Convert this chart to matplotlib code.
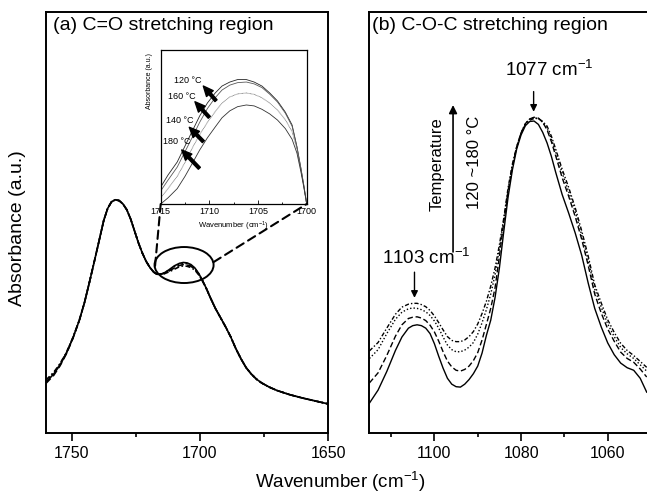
import matplotlib
matplotlib.use("Agg")
import matplotlib.pyplot as plt
from matplotlib.patches import Ellipse, ConnectionPatch
from matplotlib.ticker import MultipleLocator, NullLocator

plt.rcParams['font.family'] = ['Liberation Sans', 'DejaVu Sans']
plt.rcParams['mathtext.fontset'] = 'custom'
plt.rcParams['mathtext.rm'] = 'Liberation Sans'
plt.rcParams['mathtext.default'] = 'regular'

# ----------------------------
# (a) C=O stretching region
# ----------------------------
wn_a = [1760, 1757, 1754.5, 1752, 1749.5, 1747, 1745, 1743, 1741, 1739,
        1737.5, 1736, 1734.5, 1733, 1731.5, 1730, 1728.5, 1727, 1725.5, 1724,
        1722.5, 1721, 1719.5, 1718, 1716.7, 1715.5, 1714, 1712, 1710, 1708,
        1706.5, 1705, 1703.5, 1702, 1700.5, 1699, 1697.5, 1696, 1694, 1692,
        1690, 1688, 1686, 1684, 1682, 1680, 1678, 1676, 1673, 1670,
        1665, 1660, 1655, 1650]
a_120 = [0.121, 0.140, 0.162, 0.190, 0.226, 0.268, 0.310, 0.360, 0.412, 0.465,
         0.505, 0.533, 0.549, 0.554, 0.552, 0.544, 0.530, 0.508, 0.480, 0.452,
         0.428, 0.408, 0.393, 0.382, 0.377, 0.377, 0.380, 0.388, 0.397, 0.403,
         0.405, 0.404, 0.400, 0.392, 0.379, 0.362, 0.343, 0.322, 0.296, 0.274,
         0.252, 0.228, 0.200, 0.176, 0.155, 0.140, 0.128, 0.119, 0.109, 0.101,
         0.091, 0.083, 0.076, 0.069]
a_140 = [0.118, 0.137, 0.160, 0.189, 0.225, 0.268, 0.310, 0.360, 0.412, 0.465,
         0.505, 0.533, 0.549, 0.554, 0.552, 0.544, 0.530, 0.508, 0.480, 0.452,
         0.428, 0.408, 0.393, 0.382, 0.377, 0.377, 0.379, 0.385, 0.392, 0.398,
         0.400, 0.399, 0.396, 0.389, 0.377, 0.361, 0.343, 0.322, 0.296, 0.274,
         0.252, 0.228, 0.200, 0.176, 0.155, 0.140, 0.128, 0.119, 0.109, 0.101,
         0.091, 0.083, 0.076, 0.069]
a_160 = [0.124, 0.142, 0.164, 0.191, 0.226, 0.268, 0.310, 0.360, 0.412, 0.465,
         0.505, 0.533, 0.549, 0.554, 0.552, 0.544, 0.530, 0.508, 0.480, 0.452,
         0.428, 0.408, 0.393, 0.382, 0.377, 0.377, 0.380, 0.387, 0.395, 0.401,
         0.403, 0.402, 0.398, 0.391, 0.378, 0.362, 0.343, 0.322, 0.296, 0.274,
         0.252, 0.228, 0.200, 0.176, 0.155, 0.140, 0.128, 0.119, 0.109, 0.101,
         0.091, 0.083, 0.076, 0.069]
a_180 = [0.126, 0.144, 0.165, 0.192, 0.227, 0.268, 0.310, 0.360, 0.412, 0.465,
         0.505, 0.533, 0.549, 0.554, 0.552, 0.544, 0.530, 0.508, 0.480, 0.452,
         0.428, 0.408, 0.393, 0.382, 0.377, 0.377, 0.378, 0.383, 0.389, 0.395,
         0.397, 0.396, 0.393, 0.387, 0.376, 0.361, 0.343, 0.322, 0.296, 0.274,
         0.252, 0.228, 0.200, 0.176, 0.155, 0.140, 0.128, 0.119, 0.109, 0.101,
         0.091, 0.083, 0.076, 0.069]

# inset (zoom of the 1715-1700 band)
wn_in = [1715.0, 1714.25, 1713.3, 1712.5, 1711.7, 1711.0, 1710.2, 1709.4, 1708.7,
         1707.9, 1707.1, 1706.2, 1705.4, 1704.6, 1703.8, 1703.0, 1702.2, 1701.5,
         1701.0, 1700.6, 1700.3, 1700.0]
in_120 = [0.110, 0.188, 0.273, 0.377, 0.481, 0.571, 0.656, 0.721, 0.766, 0.792,
          0.808, 0.808, 0.792, 0.766, 0.721, 0.669, 0.597, 0.513, 0.370, 0.234,
          0.123, 0.0]
in_160 = [0.085, 0.155, 0.240, 0.340, 0.440, 0.530, 0.620, 0.690, 0.740, 0.772,
          0.788, 0.792, 0.780, 0.756, 0.713, 0.662, 0.590, 0.505, 0.370, 0.232,
          0.120, 0.0]
in_140 = [0.040, 0.100, 0.180, 0.270, 0.370, 0.450, 0.530, 0.600, 0.655, 0.695,
          0.715, 0.721, 0.712, 0.690, 0.655, 0.610, 0.548, 0.470, 0.355, 0.225,
          0.115, 0.0]
in_180 = [0.0, 0.040, 0.100, 0.180, 0.270, 0.350, 0.430, 0.500, 0.560, 0.605,
          0.632, 0.643, 0.637, 0.615, 0.585, 0.545, 0.490, 0.420, 0.330, 0.210,
          0.110, 0.0]
inset_labels = ["120 °C", "160 °C", "140 °C", "180 °C"]

# ----------------------------
# (b) C-O-C stretching region
# ----------------------------
wn_b = [1115, 1113, 1111, 1109, 1107.5, 1106, 1105, 1104, 1103, 1102,
        1101, 1100, 1099, 1098, 1097, 1096, 1095, 1094, 1093, 1092,
        1091, 1090, 1089, 1088, 1087, 1086, 1085, 1084, 1083, 1082,
        1081, 1080, 1079, 1078, 1077, 1076, 1075, 1074, 1073, 1072,
        1070.5, 1069, 1067.5, 1066, 1064.5, 1063, 1061.5, 1060, 1058.5, 1057,
        1055.5, 1054, 1052.5, 1051]
b_120 = [0.071, 0.102, 0.146, 0.196, 0.228, 0.249, 0.255, 0.257, 0.255, 0.249,
         0.236, 0.212, 0.182, 0.154, 0.130, 0.116, 0.110, 0.109, 0.116, 0.127,
         0.141, 0.159, 0.190, 0.232, 0.268, 0.322, 0.392, 0.478, 0.560, 0.625,
         0.675, 0.708, 0.730, 0.740, 0.741, 0.733, 0.714, 0.689, 0.657, 0.619,
         0.566, 0.522, 0.475, 0.422, 0.356, 0.296, 0.252, 0.214, 0.186, 0.166,
         0.155, 0.149, 0.130, 0.097]
b_140 = [0.119, 0.143, 0.184, 0.230, 0.257, 0.272, 0.275, 0.276, 0.273, 0.267,
         0.256, 0.240, 0.218, 0.193, 0.171, 0.157, 0.149, 0.147, 0.151, 0.159,
         0.172, 0.191, 0.221, 0.258, 0.296, 0.345, 0.420, 0.500, 0.572, 0.633,
         0.680, 0.713, 0.735, 0.746, 0.750, 0.748, 0.738, 0.720, 0.692, 0.658,
         0.606, 0.562, 0.514, 0.460, 0.398, 0.330, 0.285, 0.247, 0.218, 0.192,
         0.177, 0.168, 0.152, 0.133]
b_160 = [0.177, 0.198, 0.236, 0.270, 0.287, 0.295, 0.297, 0.296, 0.293, 0.288,
         0.279, 0.266, 0.249, 0.228, 0.209, 0.198, 0.193, 0.193, 0.197, 0.204,
         0.215, 0.235, 0.262, 0.293, 0.330, 0.376, 0.437, 0.505, 0.577, 0.636,
         0.680, 0.713, 0.735, 0.746, 0.749, 0.747, 0.738, 0.724, 0.698, 0.667,
         0.617, 0.573, 0.525, 0.470, 0.410, 0.342, 0.299, 0.259, 0.229, 0.203,
         0.188, 0.177, 0.162, 0.147]
b_180 = [0.195, 0.215, 0.249, 0.282, 0.299, 0.306, 0.308, 0.308, 0.305, 0.300,
         0.291, 0.278, 0.262, 0.245, 0.229, 0.220, 0.217, 0.217, 0.221, 0.229,
         0.241, 0.259, 0.284, 0.313, 0.349, 0.392, 0.447, 0.510, 0.582, 0.639,
         0.680, 0.712, 0.733, 0.743, 0.747, 0.747, 0.740, 0.729, 0.705, 0.674,
         0.626, 0.583, 0.535, 0.480, 0.420, 0.352, 0.309, 0.269, 0.239, 0.213,
         0.196, 0.184, 0.170, 0.156]

styles = {"120": "-", "140": (0, (4, 2)), "160": (0, (1, 1.5)), "180": (0, (3, 1.5, 1, 1.5))}

W, H = 647, 496
fig = plt.figure(figsize=(W / 100, H / 100), dpi=100)
ax_a = fig.add_axes([46 / W, 63 / H, 282.3 / W, 421 / H])
ax_b = fig.add_axes([369 / W, 63 / H, 279 / W, 421 / H])

for ax in (ax_a, ax_b):
    for s in ax.spines.values():
        s.set_linewidth(1.4)
    ax.yaxis.set_major_locator(NullLocator())
    ax.set_ylim(0, 1)
    ax.tick_params(axis="x", which="major", direction="out", length=6, width=1.2,
                   labelsize=11.5, pad=3.5)
    ax.tick_params(axis="x", which="minor", direction="out", length=3, width=1.2)

# panel (a)
for key, y in (("180", a_180), ("140", a_140), ("160", a_160), ("120", a_120)):
    ax_a.plot(wn_a, y, color="k", lw=1.2, ls=styles[key])
ax_a.set_xlim(1760, 1650)
ax_a.xaxis.set_major_locator(MultipleLocator(50))
ax_a.xaxis.set_minor_locator(MultipleLocator(25))
ax_a.text(0.025, 0.969, "(a) C=O stretching region", transform=ax_a.transAxes,
          fontsize=14, va="center")
ax_a.add_patch(Ellipse((1706.2, 0.399), width=23.0, height=0.0855, fill=False,
                       ec="k", lw=1.4))

# inset
ins = fig.add_axes([160.7 / W, 292 / H, 146 / W, 154 / H])
for y, c, ls in ((in_120, "0.15", "-"), (in_160, "0.35", "-"),
                 (in_140, "0.45", (0, (1, 0.6))), (in_180, "0.2", "-")):
    ins.plot(wn_in, y, color=c, lw=0.6, ls=ls)
ins.set_xlim(1715, 1700)
ins.set_ylim(0, 1)
ins.yaxis.set_major_locator(NullLocator())
ins.xaxis.set_major_locator(MultipleLocator(5))
ins.xaxis.set_minor_locator(MultipleLocator(2.5))
ins.tick_params(axis="x", which="major", direction="in", length=3, width=0.6,
                labelsize=6.5, pad=2.5)
ins.tick_params(axis="x", which="minor", direction="in", length=1.5, width=0.6)
for s in ins.spines.values():
    s.set_linewidth(0.9)
ins.set_xlabel("Wavenumber (cm$^{-1}$)", fontsize=5.5)
ins.xaxis.set_label_coords(0.495, -0.10)
ins.set_ylabel("Absorbance (a.u.)", fontsize=5)
ins.yaxis.set_label_coords(-0.05, 0.80)

arrow_tails = [(1709.32, 0.671), (1710.01, 0.563), (1710.62, 0.405), (1711.03, 0.232)]
arrow_heads = [(1710.62, 0.766), (1711.48, 0.664), (1712.06, 0.498), (1712.84, 0.351)]
label_pos = [(1712.25, 0.801), (1712.84, 0.701), (1713.05, 0.545), (1713.36, 0.409)]
for lab, tail, head, pos in zip(inset_labels, arrow_tails, arrow_heads, label_pos):
    ins.annotate("", xy=head, xytext=tail,
                 arrowprops=dict(arrowstyle="simple,head_length=0.9,head_width=0.8,tail_width=0.25",
                                 fc="k", ec="k", mutation_scale=8, shrinkA=0, shrinkB=0))
    ins.text(pos[0], pos[1], lab, fontsize=6.5, ha="center", va="center")

# dashed connectors ellipse -> inset
for xy_a, xy_in in (((1717.5, 0.397), (0, 0)), ((1694.7, 0.406), (1, 0))):
    con = ConnectionPatch(xyA=xy_a, coordsA=ax_a.transData, xyB=xy_in,
                          coordsB=ins.transAxes, ls=(0, (4, 2.5)), lw=1.5, color="k")
    fig.add_artist(con)

# panel (b)
for key, y in (("120", b_120), ("140", b_140), ("160", b_160), ("180", b_180)):
    ax_b.plot(wn_b, y, color="k", lw=1.0, ls=styles[key])
ax_b.set_xlim(1115.1, 1050.7)
ax_b.xaxis.set_major_locator(MultipleLocator(20))
ax_b.xaxis.set_minor_locator(MultipleLocator(10))
ax_b.text(0.012, 0.969, "(b) C-O-C stretching region", transform=ax_b.transAxes,
          fontsize=14, va="center")

arrow = dict(arrowstyle="-|>", color="k", lw=1.0, mutation_scale=10,
             shrinkA=0, shrinkB=0)
ax_b.text(1101.9, 0.416, "1103 cm$^{-1}$", ha="center", va="center", fontsize=13.5)
ax_b.annotate("", xy=(1104.6, 0.321), xytext=(1104.6, 0.382), arrowprops=arrow)
ax_b.text(1073.5, 0.862, "1077 cm$^{-1}$", ha="center", va="center", fontsize=13.5)
ax_b.annotate("", xy=(1077.1, 0.763), xytext=(1077.1, 0.811), arrowprops=arrow)
ax_b.text(1099.3, 0.639, "Temperature", rotation=90, ha="center", va="center",
          fontsize=12)
ax_b.text(1090.8, 0.643, "120 ~180 °C", rotation=90, ha="center", va="center",
          fontsize=12)
ax_b.annotate("", xy=(1095.7, 0.779), xytext=(1095.7, 0.430),
              arrowprops=dict(arrowstyle="-|>", color="k", lw=1.2,
                              mutation_scale=12, shrinkA=0, shrinkB=0))

fig.text(340 / W, 1 - 482 / H, "Wavenumber (cm$^{-1}$)", ha="center", va="center",
         fontsize=13.5)
fig.text(18 / W, 1 - 228 / H, "Absorbance (a.u.)", rotation=90, ha="center",
         va="center", fontsize=14)

fig.savefig("out.png", dpi=100)
